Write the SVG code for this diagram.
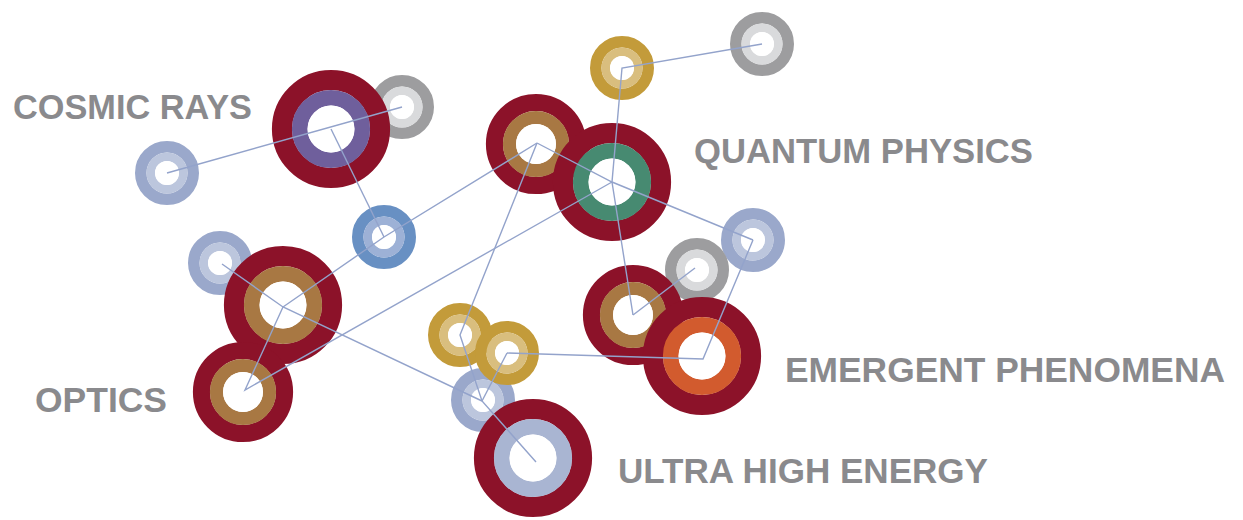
<svg xmlns="http://www.w3.org/2000/svg" width="1243" height="520" viewBox="0 0 1243 520">
<style>
.o,.m{fill:none}
.w{fill:#fff}
.s .o{stroke-width:11.5}
.s .m{stroke-width:8.6}
.b .o{stroke-width:20.2}
.b .m{stroke-width:15.7}
.d .o{stroke-width:17.2}
.d .m{stroke-width:13.2}
.red{stroke:#8C1229}
.brown{stroke:#A87843}
.purple{stroke:#6F5F9C}
.green{stroke:#478A71}
.orange{stroke:#D25B2E}
.ultra{stroke:#A9B5D2}
.bo{stroke:#6890C3}
.bm{stroke:#9DB1D6}
.lo{stroke:#9AA8CB}
.lm{stroke:#BCC6DD}
.go{stroke:#9D9D9F}
.gm{stroke:#D9DADC}
.yo{stroke:#C39B3A}
.ym{stroke:#D9BE7E}
.lbl{font-family:"Liberation Sans",Arial,sans-serif;font-weight:bold;font-size:35px;fill:#8A8A8D}
#connectors{fill:none;stroke:#93A3CB;stroke-width:1.4;stroke-linejoin:miter}
</style>

<g id="gray-cosmic" class="s"><circle class="o go" cx="402" cy="107" r="26.25"/><circle class="m gm" cx="402" cy="107" r="16.25"/><circle class="w" cx="402" cy="107" r="12"/></g>
<g id="cosmic-big" class="b"><circle class="o red" cx="331" cy="129" r="49"/><circle class="m purple" cx="331" cy="129" r="31.25"/><circle class="w" cx="331" cy="129" r="23.5"/></g>
<g id="lb-left" class="s"><circle class="o lo" cx="167" cy="173" r="26.25"/><circle class="m lm" cx="167" cy="173" r="16.25"/><circle class="w" cx="167" cy="173" r="12"/></g>
<g id="blue" class="s"><circle class="o bo" cx="384" cy="237" r="26.25"/><circle class="m bm" cx="384" cy="237" r="16.25"/><circle class="w" cx="384" cy="237" r="12"/></g>
<g id="lb-optics" class="s"><circle class="o lo" cx="220" cy="263" r="26.25"/><circle class="m lm" cx="220" cy="263" r="16.25"/><circle class="w" cx="220" cy="263" r="12"/></g>
<g id="optics-top" class="b"><circle class="o red" cx="283" cy="305" r="49"/><circle class="m brown" cx="283" cy="305" r="31.25"/><circle class="w" cx="283" cy="305" r="23.5"/></g>
<g id="optics-low" class="d"><circle class="o red" cx="243" cy="392" r="41.5"/><circle class="m brown" cx="243" cy="392" r="26.5"/><circle class="w" cx="243" cy="392" r="20"/></g>
<g id="yellow-left" class="s"><circle class="o yo" cx="460" cy="335" r="26.25"/><circle class="m ym" cx="460" cy="335" r="16.25"/><circle class="w" cx="460" cy="335" r="12"/></g>
<g id="lb-lower" class="s"><circle class="o lo" cx="483" cy="400" r="26.25"/><circle class="m lm" cx="483" cy="400" r="16.25"/><circle class="w" cx="483" cy="400" r="12"/></g>
<g id="yellow-right" class="s"><circle class="o yo" cx="507" cy="353" r="26.25"/><circle class="m ym" cx="507" cy="353" r="16.25"/><circle class="w" cx="507" cy="353" r="12"/></g>
<g id="ultra" class="b"><circle class="o red" cx="533" cy="458" r="49"/><circle class="m ultra" cx="533" cy="458" r="31.25"/><circle class="w" cx="533" cy="458" r="23.5"/></g>
<g id="quantum-brown" class="d"><circle class="o red" cx="536" cy="144" r="41.5"/><circle class="m brown" cx="536" cy="144" r="26.5"/><circle class="w" cx="536" cy="144" r="20"/></g>
<g id="quantum-green" class="b"><circle class="o red" cx="612" cy="182" r="49"/><circle class="m green" cx="612" cy="182" r="31.25"/><circle class="w" cx="612" cy="182" r="23.5"/></g>
<g id="yellow-top" class="s"><circle class="o yo" cx="622" cy="68" r="26.25"/><circle class="m ym" cx="622" cy="68" r="16.25"/><circle class="w" cx="622" cy="68" r="12"/></g>
<g id="gray-top" class="s"><circle class="o go" cx="762" cy="44" r="26.25"/><circle class="m gm" cx="762" cy="44" r="16.25"/><circle class="w" cx="762" cy="44" r="12"/></g>
<g id="lb-right" class="s"><circle class="o lo" cx="753" cy="240" r="26.25"/><circle class="m lm" cx="753" cy="240" r="16.25"/><circle class="w" cx="753" cy="240" r="12"/></g>
<g id="gray-right" class="s"><circle class="o go" cx="697" cy="270" r="26.25"/><circle class="m gm" cx="697" cy="270" r="16.25"/><circle class="w" cx="697" cy="270" r="12"/></g>
<g id="emergent-brown" class="d"><circle class="o red" cx="633" cy="315" r="41.5"/><circle class="m brown" cx="633" cy="315" r="26.5"/><circle class="w" cx="633" cy="315" r="20"/></g>
<g id="emergent-orange" class="b"><circle class="o red" cx="702" cy="356" r="49"/><circle class="m orange" cx="702" cy="356" r="31.25"/><circle class="w" cx="702" cy="356" r="23.5"/></g>

<g id="connectors">
<path d="M167,173 L402,107"/>
<path d="M331,129 L384,237"/>
<path d="M283,307 L384,237 L537,143"/>
<path d="M222,264 L283,307 L482,401"/>
<path d="M283,307 L245,390 L612,182"/>
<path d="M537,143 L460,335 L482,401 L536,462"/>
<path d="M507,353 L482,401"/>
<path d="M507,353 L703,359 L753,240"/>
<path d="M633,315 L612,182 L622,68 L762,44"/>
<path d="M537,143 L612,182 L753,240"/>
<path d="M633,315 L695,268"/>
</g>

<g id="labels">
<text class="lbl" x="13" y="119" textLength="239" lengthAdjust="spacingAndGlyphs">COSMIC RAYS</text>
<text class="lbl" x="694" y="163" textLength="339" lengthAdjust="spacingAndGlyphs">QUANTUM PHYSICS</text>
<text class="lbl" x="785" y="382" textLength="440" lengthAdjust="spacingAndGlyphs">EMERGENT PHENOMENA</text>
<text class="lbl" x="35" y="412" textLength="132" lengthAdjust="spacingAndGlyphs">OPTICS</text>
<text class="lbl" x="618" y="483" textLength="370" lengthAdjust="spacingAndGlyphs">ULTRA HIGH ENERGY</text>
</g>
</svg>
